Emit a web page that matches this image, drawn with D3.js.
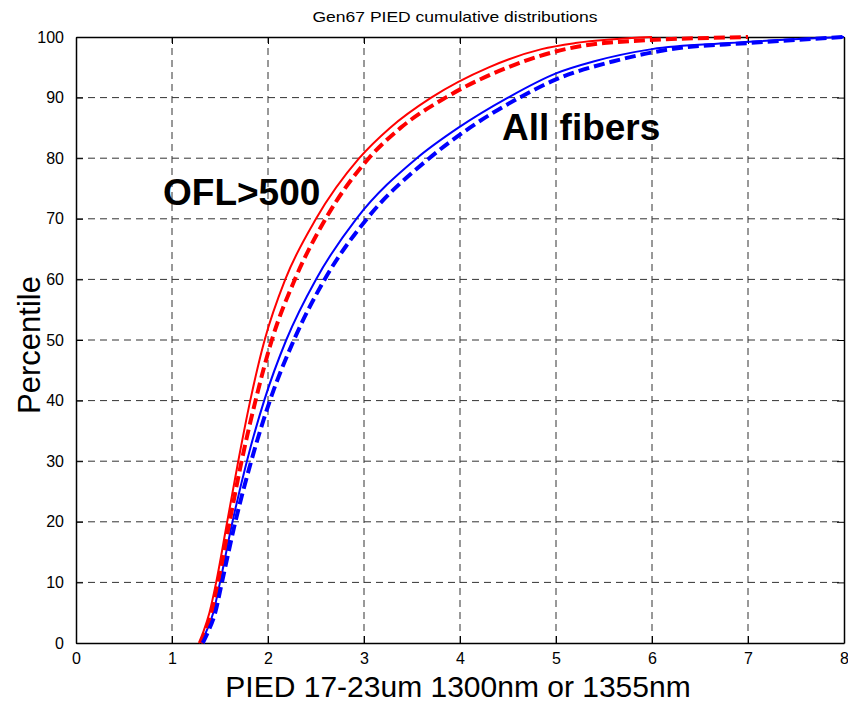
<!DOCTYPE html>
<html><head><meta charset="utf-8">
<script src="https://cdn.jsdelivr.net/npm/d3@7"></script>
<style>
html,body{margin:0;padding:0;background:#fff;}
text{font-family:"Liberation Sans",Arial,Helvetica,sans-serif;}
</style></head>
<body><svg id="chart" width="848" height="703"></svg>
<script>
// Percentile levels and corresponding PIED values (x) per series
const redSolidPct  = [0, 2, 5, 10, 20, 30, 40, 50, 60, 70, 80, 85, 90, 95, 98, 99, 100];
const redSolidX    = [1.28, 1.33, 1.39, 1.46, 1.575, 1.69, 1.815, 1.965, 2.18, 2.50, 2.95, 3.27, 3.70, 4.30, 4.85, 5.2, 6.0];
const redDashPct   = [0, 2, 5, 10, 20, 30, 40, 50, 60, 70, 80, 85, 90, 95, 98, 99, 100];
const redDashX     = [1.30, 1.35, 1.41, 1.48, 1.60, 1.725, 1.87, 2.04, 2.28, 2.60, 3.05, 3.38, 3.85, 4.50, 5.1, 5.5, 7.0];
const blueSolidPct = [0, 2, 5, 10, 20, 30, 40, 50, 60, 70, 80, 85, 90, 94, 96, 98, 99, 100];
const blueSolidX   = [1.30, 1.36, 1.43, 1.50, 1.63, 1.78, 1.96, 2.19, 2.50, 2.92, 3.55, 3.98, 4.50, 5.0, 5.4, 6.0, 6.8, 8.0];
const blueDashPct  = [0, 2, 5, 10, 20, 30, 40, 50, 60, 70, 80, 85, 90, 93, 96, 98, 99, 100];
const blueDashX    = [1.32, 1.38, 1.45, 1.52, 1.66, 1.825, 2.02, 2.27, 2.59, 3.03, 3.68, 4.1, 4.62, 5.0, 5.6, 6.2, 7.0, 8.0];

const xTicks = [0, 1, 2, 3, 4, 5, 6, 7, 8];
const yTicks = [0, 10, 20, 30, 40, 50, 60, 70, 80, 90, 100];

const title = "Gen67 PIED cumulative distributions";
const xLabel = "PIED 17-23um 1300nm or 1355nm";
const yLabel = "Percentile";

const svg = d3.select("#chart");
const L = 76, R = 844, T = 37, B = 643;
const x = d3.scaleLinear().domain([0, 8]).range([L, R]);
const y = d3.scaleLinear().domain([0, 100]).range([B, T]);

// grid
const g = svg.append("g");
g.selectAll(".vg").data(xTicks.slice(1, -1)).enter().append("line")
  .attr("x1", d => x(d)).attr("x2", d => x(d)).attr("y1", B).attr("y2", T)
  .attr("stroke", "#333").attr("stroke-width", 1).attr("stroke-dasharray", "7,5");
g.selectAll(".hg").data(yTicks.slice(1, -1)).enter().append("line")
  .attr("y1", d => y(d)).attr("y2", d => y(d)).attr("x1", L).attr("x2", R)
  .attr("stroke", "#333").attr("stroke-width", 1).attr("stroke-dasharray", "7,5");

// axes with inward ticks
const xAxisB = d3.axisBottom(x).tickValues(xTicks).tickSizeInner(-7).tickSizeOuter(0).tickPadding(10);
const xAxisT = d3.axisTop(x).tickValues(xTicks).tickSizeInner(-7).tickSizeOuter(0).tickFormat("");
const yAxisL = d3.axisLeft(y).tickValues(yTicks).tickSizeInner(-7).tickSizeOuter(0).tickPadding(12);
const yAxisR = d3.axisRight(y).tickValues(yTicks).tickSizeInner(-7).tickSizeOuter(0).tickFormat("");

function style(sel){
  sel.select(".domain").attr("stroke", "#000").attr("stroke-width", 1.5);
  sel.selectAll(".tick line").attr("stroke", "#000").attr("stroke-width", 1);
  sel.selectAll(".tick text").attr("font-size", 16).attr("fill", "#000")
     .style("font-family", '"Liberation Sans",Arial,sans-serif');
}
svg.append("g").attr("transform", `translate(0,${B})`).call(xAxisB).call(style);
svg.append("g").attr("transform", `translate(0,${T})`).call(xAxisT).call(style);
svg.append("g").attr("transform", `translate(${L},0)`).call(yAxisL).call(style);
svg.append("g").attr("transform", `translate(${R},0)`).call(yAxisR).call(style);

// curves
const line = d3.line().x(d => x(d[0])).y(d => y(d[1])).curve(d3.curveMonotoneX);
const series = [
  {xs: redSolidX, ps: redSolidPct, color: "#ff0000", w: 2, dash: null},
  {xs: blueSolidX, ps: blueSolidPct, color: "#0000ff", w: 2, dash: null},
  {xs: redDashX, ps: redDashPct, color: "#ff0000", w: 4, dash: "11,5"},
  {xs: blueDashX, ps: blueDashPct, color: "#0000ff", w: 4, dash: "11,5"}
];
const plot = svg.append("g");
series.forEach(s => {
  const pts = s.xs.map((v, i) => [v, s.ps[i]]);
  plot.append("path").datum(pts).attr("d", line)
    .attr("fill", "none").attr("stroke", s.color).attr("stroke-width", s.w)
    .attr("stroke-dasharray", s.dash);
});

// texts
svg.append("text").attr("x", 455).attr("y", 22).attr("text-anchor", "middle")
  .attr("font-size", 15).attr("textLength", 285).attr("lengthAdjust", "spacingAndGlyphs").text(title);
svg.append("text").attr("x", 458).attr("y", 697).attr("text-anchor", "middle")
  .attr("font-size", 30).text(xLabel);
svg.append("text").attr("transform", "translate(40,345) rotate(-90)").attr("text-anchor", "middle")
  .attr("font-size", 31).text(yLabel);
svg.append("text").attr("x", 163).attr("y", 205).attr("font-size", 37).attr("font-weight", "bold").text("OFL>500");
svg.append("text").attr("x", 502).attr("y", 140).attr("font-size", 37).attr("font-weight", "bold").text("All fibers");
</script></body></html>
